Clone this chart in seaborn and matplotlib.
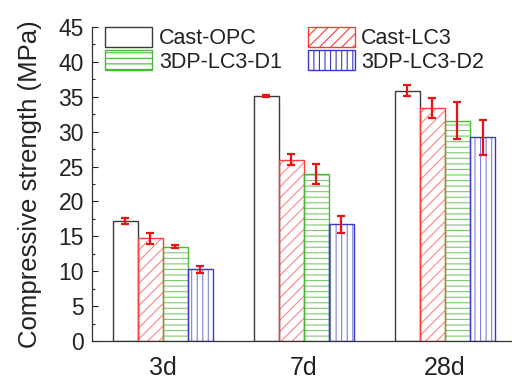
import numpy as np
import pandas as pd
import matplotlib
matplotlib.use('Agg')
import matplotlib.pyplot as plt
import seaborn as sns

# Compressive strength of the four mixes at three ages
ages = ['3d', '7d', '28d']
mixes = ['Cast-OPC', 'Cast-LC3', '3DP-LC3-D1', '3DP-LC3-D2']
strength = {
    'Cast-OPC':   [17.2, 35.1, 35.9],
    'Cast-LC3':   [14.7, 26.0, 33.4],
    '3DP-LC3-D1': [13.5, 23.9, 31.6],
    '3DP-LC3-D2': [10.3, 16.7, 29.2],
}
strength_err = {
    'Cast-OPC':   [0.5, 0.1, 0.8],
    'Cast-LC3':   [0.8, 0.8, 1.4],
    '3DP-LC3-D1': [0.2, 1.4, 2.7],
    '3DP-LC3-D2': [0.5, 1.2, 2.5],
}

edge_colors = ['#3a3a3a', '#ff3b3b', '#44bb33', '#3838cc']
hatch_colors = ['#3a3a3a', '#ff8585', '#7acc6a', '#8080dd']
hatches = ['', '///', '---', '|||']

rows = []
for m in mixes:
    for a, v in zip(ages, strength[m]):
        rows.append({'age': a, 'mix': m, 'strength': v})
df = pd.DataFrame(rows)

sns.set_style('ticks')
plt.rcParams['font.family'] = ['Liberation Sans', 'DejaVu Sans']
plt.rcParams['hatch.linewidth'] = 0.8

fig = plt.figure(figsize=(5.12, 3.81), dpi=100)
ax = fig.add_axes([0.18, 0.105, 0.82, 0.824])

sns.barplot(data=df, x='age', y='strength', hue='mix', order=ages,
            hue_order=mixes, errorbar=None, width=0.71, legend=False,
            palette=['white'] * 4, saturation=1, ax=ax)

# patches come in hue order: all bars of the first mix, then the next, ...
n = len(ages)
for i, m in enumerate(mixes):
    for j in range(n):
        p = ax.patches[i * n + j]
        p.set_facecolor('white')
        p.set_edgecolor(hatch_colors[i])
        p.set_hatch(hatches[i])
        p.set_linewidth(0)
        # outline drawn on top in the stronger colour
        ax.add_patch(plt.Rectangle(p.get_xy(), p.get_width(), p.get_height(),
                                   fill=False, edgecolor=edge_colors[i],
                                   linewidth=1.0, zorder=p.get_zorder() + 0.1))
        cx = p.get_x() + p.get_width() / 2
        ax.errorbar(cx, strength[m][j], yerr=strength_err[m][j], fmt='none',
                    ecolor='#ee1111', elinewidth=1.6, capsize=3, capthick=1.6,
                    zorder=5)

ax.set_ylim(0, 45)
ax.set_xlim(-0.5, 2.475)
ax.set_yticks(np.arange(0, 46, 5))
ax.set_yticks(np.arange(0, 45, 2.5), minor=True)
ax.tick_params(axis='y', direction='in', length=4, width=0.8, labelsize=16.5,
               pad=6, colors='#222222')
ax.tick_params(axis='y', which='minor', direction='in', length=2.5, width=0.8)
ax.tick_params(axis='x', length=0, labelsize=18, pad=11, colors='#222222')
ax.set_xlabel('')
ax.set_ylabel('Compressive strength (MPa)', fontsize=18.5, color='#222222', labelpad=12)
sns.despine(ax=ax)
for s in ['left', 'bottom']:
    ax.spines[s].set_color('#333333')
    ax.spines[s].set_linewidth(0.9)

handles = []
for i, m in enumerate(mixes):
    handles.append(plt.Rectangle((0, 0), 1, 1, facecolor='white',
                                 edgecolor=edge_colors[i], hatch=hatches[i],
                                 linewidth=1.0, label=m))
# legend order: row-wise in two columns
leg = ax.legend(handles=[handles[0], handles[2], handles[1], handles[3]],
                ncol=2, loc='upper left', bbox_to_anchor=(105 / 512, 1 - 27 / 381),
                bbox_transform=fig.transFigure, frameon=False, fontsize=15.5,
                handlelength=2.2, handleheight=1.05, labelspacing=0.05,
                handletextpad=0.3, columnspacing=1.2, borderpad=0, borderaxespad=0)
for t in leg.get_texts():
    t.set_color('#222222')

fig.savefig('out.png', dpi=100)
